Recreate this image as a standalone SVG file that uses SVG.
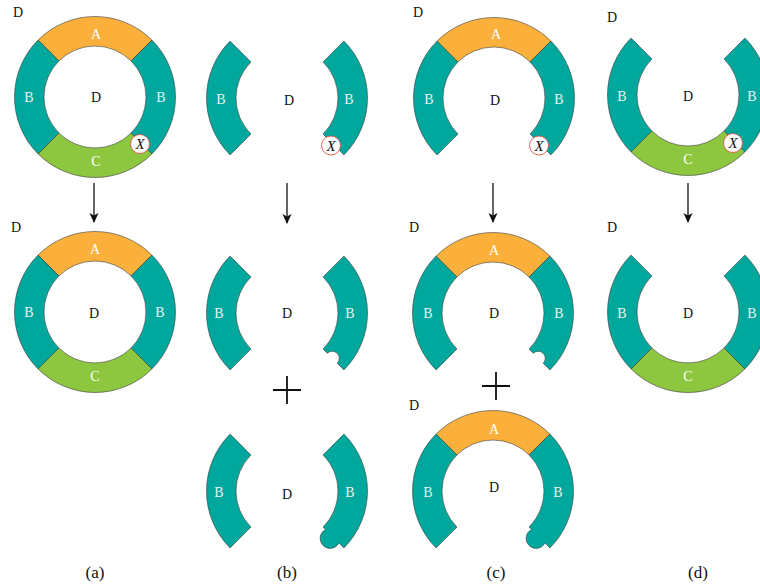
<svg xmlns="http://www.w3.org/2000/svg" xmlns:xlink="http://www.w3.org/1999/xlink" width="760" height="588" viewBox="0 0 760 588">
<style>
.a{fill:#FBB03B;stroke:#3a3a3a;stroke-width:0.6}
.b{fill:#00A79D;stroke:#3a3a3a;stroke-width:0.6}
.c{fill:#8DC63F;stroke:#3a3a3a;stroke-width:0.6}
.t{font-family:"Liberation Serif","DejaVu Serif",serif;font-size:14px;text-anchor:middle;dominant-baseline:central}
.w{fill:#ffffff}
.wb{fill:#e4f4f2}
.k{fill:#111111}
.x{fill:#ffffff;stroke:#e0504a;stroke-width:0.9}
.xt{font-family:"Liberation Serif","DejaVu Serif",serif;font-style:italic;font-size:15px;text-anchor:middle;dominant-baseline:central;fill:#111}
.cap{font-family:"Liberation Serif","DejaVu Serif",serif;font-size:17px;text-anchor:middle;dominant-baseline:central;fill:#111}
.arr{stroke:#111;stroke-width:1.3;fill:none}
.plus{stroke:#111;stroke-width:1.8;fill:none}
</style>
<defs>
<marker id="ah" viewBox="0 0 10 10" refX="9" refY="5" markerWidth="10" markerHeight="10" markerUnits="userSpaceOnUse" orient="auto">
<path d="M0,0.5 L10,5 L0,9.5 L2.5,5 Z" fill="#111"/>
</marker>
<path id="pA" d="M-56.92,-56.92 A80.5,80.5 0 0 1 56.92,-56.92 L36.06,-36.06 A51,51 0 0 0 -36.06,-36.06 Z"/>
<path id="pBL" d="M-56.92,-56.92 A80.5,80.5 0 0 0 -56.92,56.92 L-36.06,36.06 A51,51 0 0 1 -36.06,-36.06 Z"/>
<path id="pBR" d="M56.92,-56.92 A80.5,80.5 0 0 1 56.92,56.92 L36.06,36.06 A51,51 0 0 0 36.06,-36.06 Z"/>
<path id="pC" d="M56.92,56.92 A80.5,80.5 0 0 1 -56.92,56.92 L-36.06,36.06 A51,51 0 0 0 36.06,36.06 Z"/>
<path id="pBRn" d="M56.92,-56.92 A80.5,80.5 0 0 1 56.92,56.92 L50.2,50.2 A7,7 0 0 0 40.3,40.3 L36.06,36.06 A51,51 0 0 0 36.06,-36.06 Z"/>
<path id="pBRb" d="M56.92,-56.92 A80.5,80.5 0 0 1 56.92,56.92 L52,52 A10,10 0 1 1 38.51,38.51 L36.06,36.06 A51,51 0 0 0 36.06,-36.06 Z"/>
</defs>

<g id="a-top">
<use href="#pA" class="a" x="95" y="97"/>
<use href="#pBL" class="b" x="95" y="97"/>
<use href="#pBR" class="b" x="95" y="97"/>
<use href="#pC" class="c" x="95" y="97"/>
<text class="t w" x="96" y="34">A</text>
<text class="t wb" x="29" y="97">B</text>
<text class="t wb" x="161" y="97">B</text>
<text class="t w" x="96" y="161">C</text>
<text class="t k" x="96" y="97">D</text>
<text class="t k" x="18" y="12">D</text>
<circle class="x" cx="140" cy="144" r="9.5"/>
<text class="xt" x="140" y="144">X</text>
</g>

<g id="a-mid">
<use href="#pA" class="a" x="95" y="312"/>
<use href="#pBL" class="b" x="95" y="312"/>
<use href="#pBR" class="b" x="95" y="312"/>
<use href="#pC" class="c" x="95" y="312"/>
<text class="t w" x="95" y="249">A</text>
<text class="t wb" x="29" y="312">B</text>
<text class="t wb" x="160" y="312">B</text>
<text class="t w" x="95" y="376">C</text>
<text class="t k" x="94" y="313">D</text>
<text class="t k" x="16" y="227">D</text>
</g>

<g id="b-top">
<use href="#pBL" class="b" x="287" y="98"/>
<use href="#pBR" class="b" x="287" y="98"/>
<text class="t wb" x="221" y="99">B</text>
<text class="t wb" x="349" y="99">B</text>
<text class="t k" x="289" y="100">D</text>
<circle class="x" cx="331" cy="145.5" r="9.5"/>
<text class="xt" x="331" y="145.5">X</text>
</g>

<g id="b-mid">
<use href="#pBL" class="b" x="287" y="313"/>
<use href="#pBRn" class="b" x="287" y="313"/>
<text class="t wb" x="219" y="313">B</text>
<text class="t wb" x="350" y="313">B</text>
<text class="t k" x="287" y="313">D</text>
</g>

<g id="b-bot">
<use href="#pBL" class="b" x="287" y="491"/>
<use href="#pBRb" class="b" x="287" y="491"/>
<text class="t wb" x="219" y="492">B</text>
<text class="t wb" x="350" y="492">B</text>
<text class="t k" x="287" y="494">D</text>
</g>

<g id="c-top">
<use href="#pA" class="a" x="494" y="98"/>
<use href="#pBL" class="b" x="494" y="98"/>
<use href="#pBR" class="b" x="494" y="98"/>
<text class="t w" x="496" y="34">A</text>
<text class="t wb" x="429" y="99">B</text>
<text class="t wb" x="559" y="99">B</text>
<text class="t k" x="495" y="100">D</text>
<text class="t k" x="418" y="12">D</text>
<circle class="x" cx="539" cy="145.5" r="9.5"/>
<text class="xt" x="539" y="145.5">X</text>
</g>

<g id="c-mid">
<use href="#pA" class="a" x="493" y="313"/>
<use href="#pBL" class="b" x="493" y="313"/>
<use href="#pBRn" class="b" x="493" y="313"/>
<text class="t w" x="494" y="250">A</text>
<text class="t wb" x="428" y="313">B</text>
<text class="t wb" x="559" y="313">B</text>
<text class="t k" x="494" y="313">D</text>
<text class="t k" x="414" y="227">D</text>
</g>

<g id="c-bot">
<use href="#pA" class="a" x="493" y="491"/>
<use href="#pBL" class="b" x="493" y="491"/>
<use href="#pBRb" class="b" x="493" y="491"/>
<text class="t w" x="494" y="429">A</text>
<text class="t wb" x="428" y="492">B</text>
<text class="t wb" x="558" y="492">B</text>
<text class="t k" x="494" y="487">D</text>
<text class="t k" x="414" y="405">D</text>
</g>

<g id="d-top">
<use href="#pBL" class="b" x="688" y="95"/>
<use href="#pBR" class="b" x="688" y="95"/>
<use href="#pC" class="c" x="688" y="95"/>
<text class="t wb" x="622" y="96">B</text>
<text class="t wb" x="752" y="96">B</text>
<text class="t w" x="688" y="159">C</text>
<text class="t k" x="688" y="96">D</text>
<text class="t k" x="612" y="17">D</text>
<circle class="x" cx="733" cy="143" r="9.5"/>
<text class="xt" x="733" y="143">X</text>
</g>

<g id="d-mid">
<use href="#pBL" class="b" x="688" y="312"/>
<use href="#pBR" class="b" x="688" y="312"/>
<use href="#pC" class="c" x="688" y="312"/>
<text class="t wb" x="622" y="313">B</text>
<text class="t wb" x="752" y="313">B</text>
<text class="t w" x="688" y="376">C</text>
<text class="t k" x="688" y="313">D</text>
<text class="t k" x="612" y="227">D</text>
</g>

<g id="connectors">
<line class="arr" x1="94" y1="183" x2="94" y2="222" marker-end="url(#ah)"/>
<line class="arr" x1="287" y1="183" x2="287" y2="223" marker-end="url(#ah)"/>
<line class="arr" x1="493" y1="183" x2="493" y2="222" marker-end="url(#ah)"/>
<line class="arr" x1="688" y1="183" x2="688" y2="222" marker-end="url(#ah)"/>
<path class="plus" d="M273,390 H301 M287,376 V404"/>
<path class="plus" d="M482,386 H510 M496,372 V400"/>
</g>

<g id="captions">
<text class="cap" x="95" y="572">(a)</text>
<text class="cap" x="287" y="572">(b)</text>
<text class="cap" x="496" y="572">(c)</text>
<text class="cap" x="698" y="572">(d)</text>
</g>
</svg>
